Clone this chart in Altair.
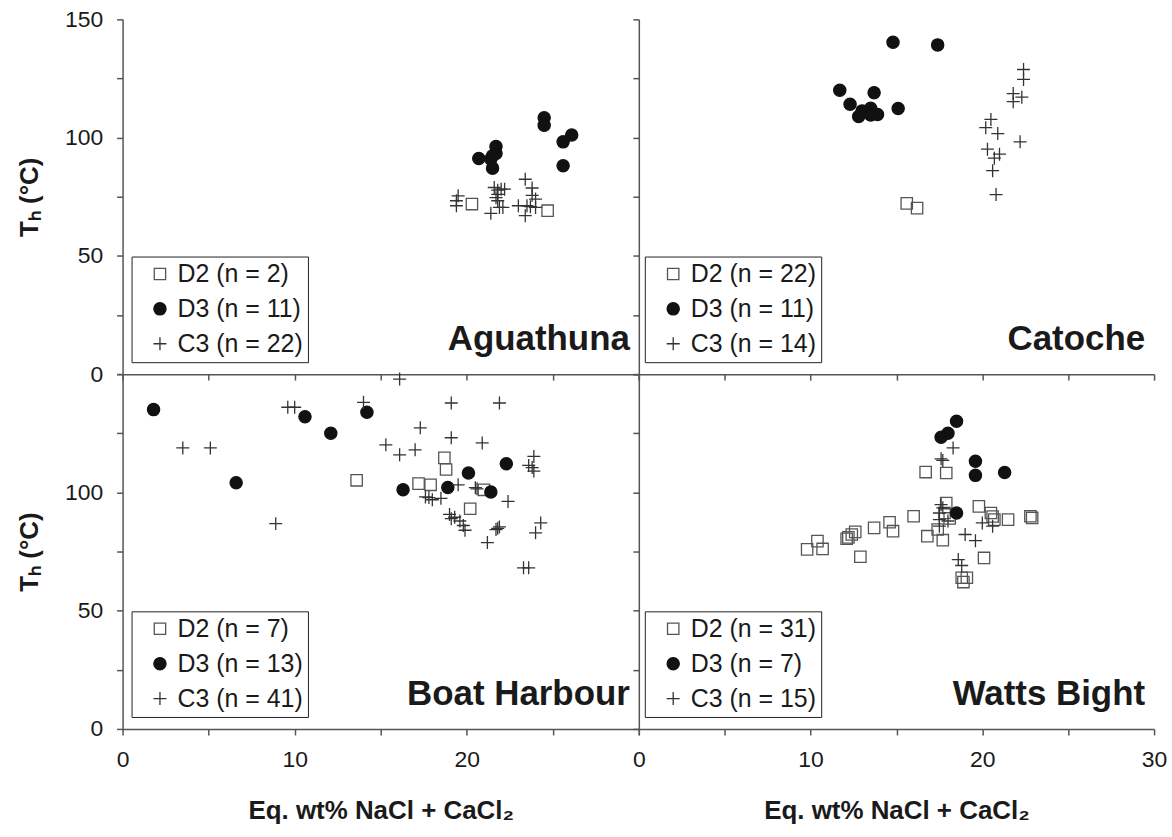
import altair as alt
import pandas as pd

# ---------------- data ----------------
X_TICKS = [0, 5, 10, 15, 20, 25, 30]
Y_TICKS = [0, 25, 50, 75, 100, 125, 150]

# Aguathuna
ag_d2_x = [20.3, 24.7]
ag_d2_y = [71.9, 69.1]
ag_d3_x = [20.7, 21.7, 21.7, 21.5, 21.4, 21.5, 24.5, 24.5, 26.1, 25.6, 25.6]
ag_d3_y = [91.2, 96.2, 93.3, 92.3, 91.0, 87.1, 108.4, 105.2, 101.1, 98.2, 88.1]
ag_c3_x = [19.5, 19.4, 19.4, 21.4, 21.8, 22.0, 22.2, 21.8, 21.8, 21.9, 22.1,
           23.4, 23.8, 23.8, 24.0, 23.5, 23.0, 23.4, 23.7, 24.0, 21.7, 21.6]
ag_c3_y = [75.4, 73.3, 71.2, 68.0, 77.8, 78.2, 78.2, 76.0, 73.3, 70.5, 70.5,
           82.4, 78.7, 75.6, 74.0, 71.2, 71.2, 67.0, 70.8, 70.5, 74.6, 78.9]
ag_n = [2, 11, 22]

# Catoche
ca_d2_x = [15.6, 16.2]
ca_d2_y = [72.2, 70.2]
ca_d3_x = [14.8, 17.4, 11.7, 13.7, 12.3, 15.1, 13.0, 13.5, 12.8, 13.5, 13.9]
ca_d3_y = [140.3, 139.2, 120.0, 119.0, 114.1, 112.3, 111.3, 112.4, 108.9, 109.6, 109.8]
ca_c3_x = [22.4, 22.4, 21.8, 22.3, 21.8, 20.5, 20.2, 20.9, 22.2, 20.3, 21.0, 20.7, 20.6, 20.8]
ca_c3_y = [128.8, 124.6, 118.6, 117.1, 115.2, 107.7, 104.2, 101.7, 98.2, 95.1, 93.0, 91.3, 86.0, 75.9]
ca_n = [22, 11, 14]

# Boat Harbour
bh_d2_x = [13.6, 18.7, 18.8, 17.2, 17.9, 21.0, 20.2]
bh_d2_y = [105.1, 114.6, 109.7, 103.7, 103.2, 101.1, 93.1]
bh_d3_x = [1.8, 6.6, 10.6, 12.1, 14.2, 16.3, 18.9, 20.1, 21.4, 22.3]
bh_d3_y = [135.0, 104.1, 132.0, 125.0, 133.9, 101.1, 102.1, 108.2, 100.2, 112.1]
bh_c3_x = [3.5, 5.1, 8.9, 9.6, 10.0, 14.0, 16.1, 19.1, 21.9, 17.3, 15.3, 16.1,
           17.0, 19.1, 20.9, 23.9, 23.6, 23.9, 19.5, 20.5, 17.6, 18.0, 22.4, 19.0,
           19.1, 19.6, 19.9, 21.7, 21.9, 24.3, 24.0, 21.2, 23.3, 23.6, 18.5, 19.3,
           20.6, 23.8, 21.8, 19.8, 17.8]
bh_c3_y = [118.8, 118.8, 86.8, 136.0, 136.0, 138.1, 147.9, 137.8, 137.8, 127.3, 120.1, 115.9,
           118.0, 123.1, 120.9, 115.2, 111.4, 109.0, 103.2, 102.0, 98.1, 96.9, 96.2, 90.7,
           88.9, 87.9, 84.0, 84.3, 85.4, 87.1, 82.9, 78.8, 68.1, 68.1, 97.5, 89.5,
           101.5, 110.5, 84.8, 86.0, 97.8]
bh_n = [7, 13, 41]

# Watts Bight
wb_d2_x = [16.7, 17.9, 9.8, 10.4, 10.7, 12.1, 12.2, 12.4, 12.6, 12.9, 13.7, 14.6, 14.8,
           16.0, 16.8, 17.4, 17.7, 17.9, 17.8, 18.1, 19.8, 20.5, 20.7, 21.5, 22.8, 22.9,
           20.1, 18.8, 19.1, 18.9, 20.6]
wb_d2_y = [108.6, 108.2, 75.9, 79.4, 76.1, 80.4, 81.0, 82.2, 83.3, 72.8, 85.0, 87.4, 83.6,
           89.9, 81.5, 84.3, 79.8, 95.5, 91.3, 89.0, 94.1, 91.3, 88.5, 88.5, 89.9, 89.2,
           72.3, 63.9, 63.9, 62.1, 89.8]
wb_d3_x = [18.5, 18.0, 17.6, 19.6, 19.6, 21.3, 18.5]
wb_d3_y = [130.1, 125.0, 123.3, 113.2, 107.2, 108.4, 91.3]
wb_c3_x = [18.3, 17.6, 17.7, 17.6, 17.7, 17.5, 17.5, 17.5, 18.0, 19.0, 19.6, 20.0, 20.6, 18.6, 18.8]
wb_c3_y = [118.8, 114.2, 113.5, 94.8, 93.5, 91.3, 88.5, 85.7, 87.9, 82.2, 79.6, 87.1, 85.7, 71.6, 69.1]
wb_n = [31, 7, 15]

# ---------------- styling ----------------
FONT = "Liberation Sans"
AX = "#555555"
TXT = "#1a1a1a"
PLUS = "M-1,0H1M0,-1V1"
SHAPES = ["square", "circle", PLUS]
FILLS = ["transparent", "#111111", "transparent"]
STROKES = ["#555555", "#111111", "#333333"]
SIZES = [130, 170, 175]
H = 356
PAD = "\u00a0\u00a0\u00a0\u00a0"


def panel(name, d2, d3, c3, counts, pos):
    left = pos in ("tl", "bl")
    bottom = pos in ("bl", "br")
    W = 518 if left else 517
    labels = [f"D2 (n = {counts[0]}){PAD}", f"D3 (n = {counts[1]}){PAD}", f"C3 (n = {counts[2]}){PAD}"]
    rows = []
    for lab, (xs, ys) in zip(labels, [d2, d3, c3]):
        for xv, yv in zip(xs, ys):
            rows.append({"x": xv, "y": yv, "grp": lab})
    df = pd.DataFrame(rows)

    common_ax = dict(tickSize=6, tickColor=AX, domainColor=AX,
                     domainWidth=1.5, tickWidth=1.5, grid=False,
                     labelFontSize=23, labelColor=TXT, labelFont=FONT,
                     labelOverlap=False, labelFlush=False,
                     titleFontSize=26, titleFont=FONT, titleFontWeight="bold",
                     titleColor=TXT)

    xa = dict(common_ax)
    xa["values"] = X_TICKS
    if bottom:
        xa["labelExpr"] = ("datum.value % 10 == 0 && datum.value < 30 ? datum.label : ''"
                           if left else "datum.value % 10 == 0 ? datum.label : ''")
        xa["labelPadding"] = 14
        xa["title"] = "Eq. wt% NaCl + CaCl\u2082"
        xa["titlePadding"] = 26
    else:
        xa["labels"] = False
        xa["title"] = None

    ya = dict(common_ax)
    ya["values"] = Y_TICKS
    if left:
        ya["labelExpr"] = ("datum.value % 50 == 0 ? datum.label : ''" if not bottom
                           else "datum.value % 50 == 0 && datum.value < 150 ? datum.label : ''")
        ya["labelPadding"] = 14
        ya["title"] = "T\u2095 (\u00b0C)"
        ya["titlePadding"] = 22
    else:
        ya["labels"] = False
        ya["title"] = None

    leg = alt.Legend(orient="none", legendX=9 if left else 6, legendY=238, title=None,
                     strokeColor="#222222", padding=5, symbolOffset=11,
                     labelOffset=5, labelFontSize=25, labelFont=FONT, labelColor=TXT,
                     rowPadding=9, symbolStrokeWidth=1.3, labelLimit=400)

    pts = alt.Chart(df).mark_point(opacity=1, strokeWidth=1.3).encode(
        x=alt.X("x:Q", scale=alt.Scale(domain=[0, 30], nice=False, zero=False), axis=alt.Axis(**xa)),
        y=alt.Y("y:Q", scale=alt.Scale(domain=[0, 150], nice=False, zero=False), axis=alt.Axis(**ya)),
        shape=alt.Shape("grp:N", scale=alt.Scale(domain=labels, range=SHAPES), legend=leg),
        fill=alt.Fill("grp:N", scale=alt.Scale(domain=labels, range=FILLS), legend=leg),
        stroke=alt.Stroke("grp:N", scale=alt.Scale(domain=labels, range=STROKES), legend=leg),
        size=alt.Size("grp:N", scale=alt.Scale(domain=labels, range=SIZES), legend=leg),
    )
    name_df = pd.DataFrame({"site": [name]})
    txt = alt.Chart(name_df).mark_text(font=FONT, fontSize=35, fontWeight="bold",
                                       align="right", baseline="alphabetic", color=TXT).encode(
        text="site:N", x=alt.value(W - 9), y=alt.value(H - 24))
    return alt.layer(pts, txt).properties(width=W, height=H)


RES = dict(shape="independent", fill="independent", stroke="independent", size="independent")

tl = panel("Aguathuna", (ag_d2_x, ag_d2_y), (ag_d3_x, ag_d3_y), (ag_c3_x, ag_c3_y), ag_n, "tl")
tr = panel("Catoche", (ca_d2_x, ca_d2_y), (ca_d3_x, ca_d3_y), (ca_c3_x, ca_c3_y), ca_n, "tr")
bl = panel("Boat Harbour", (bh_d2_x, bh_d2_y), (bh_d3_x, bh_d3_y), (bh_c3_x, bh_c3_y), bh_n, "bl")
br = panel("Watts Bight", (wb_d2_x, wb_d2_y), (wb_d3_x, wb_d3_y), (wb_c3_x, wb_c3_y), wb_n, "br")

chart = alt.concat(tl, tr, bl, br, columns=2, spacing=0, bounds="flush").resolve_scale(**RES).properties(
    padding={"left": 16, "top": 7, "right": 5, "bottom": 5}
).configure(font=FONT).configure_view(stroke=None)

chart.save("out.html", embed_options={"renderer": "svg", "actions": False})
